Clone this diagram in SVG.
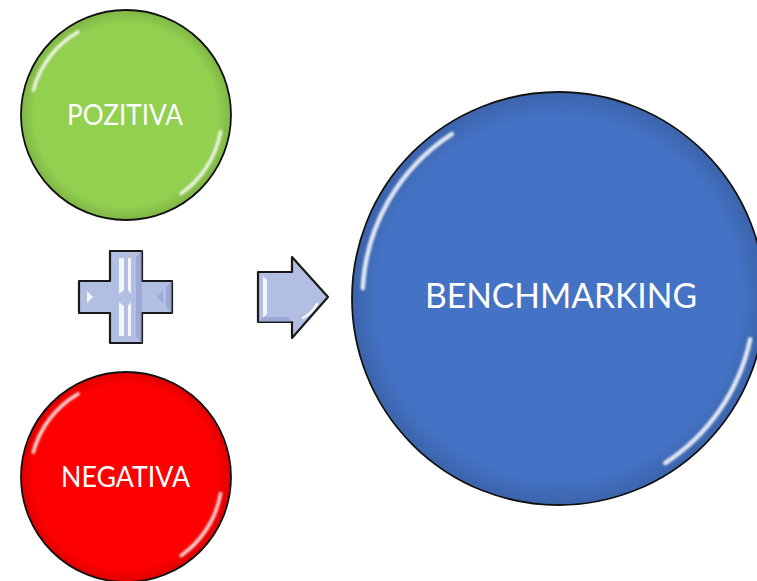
<svg xmlns="http://www.w3.org/2000/svg" width="757" height="581" viewBox="0 0 757 581">
<defs>
<style>
.ring{stroke:#111;stroke-width:1.8}
.hl{fill:none;stroke:#fff;stroke-width:3.5;stroke-linecap:round;opacity:0.85;filter:url(#blur)}
.lbl{fill:#fff;font-family:Lato,"Open Sans","Liberation Sans",sans-serif;text-anchor:middle}
.shape{fill:#b3bee3;stroke:#1a1a1a;stroke-width:2.2;stroke-linejoin:round}
.shine{fill:#fff;opacity:0.85}
.shade{fill:#8e9bc9;opacity:0.6}
</style>
<filter id="blur" x="-20%" y="-20%" width="140%" height="140%"><feGaussianBlur stdDeviation="1.3"/></filter>
<radialGradient id="edgeG" cx="0.5" cy="0.5" r="0.5">
<stop offset="0.88" stop-color="#000" stop-opacity="0"/>
<stop offset="1" stop-color="#000" stop-opacity="0.12"/>
</radialGradient>
</defs>
<rect width="757" height="581" fill="#fff"/>
<g id="pozitiva">
<circle class="ring" cx="126" cy="115" r="105" fill="#92d050"/>
<circle cx="126" cy="115" r="104" fill="url(#edgeG)"/>
<path class="hl" d="M33.3,90.2 A96,96 0 0 1 78,31.9"/>
<path class="hl" d="M220.5,131.7 A96,96 0 0 1 181.1,193.6"/>
<text class="lbl" x="125" y="125" font-size="28" textLength="116" lengthAdjust="spacingAndGlyphs">POZITIVA</text>
</g>
<g id="negativa">
<circle class="ring" cx="126" cy="477" r="105" fill="#ff0000"/>
<circle cx="126" cy="477" r="104" fill="url(#edgeG)"/>
<path class="hl" d="M33.3,452.2 A96,96 0 0 1 78,393.9"/>
<path class="hl" d="M220.5,493.7 A96,96 0 0 1 181.1,555.6"/>
<text class="lbl" x="125.5" y="487" font-size="28" textLength="129" lengthAdjust="spacingAndGlyphs">NEGATIVA</text>
</g>
<g id="benchmarking">
<circle class="ring" cx="558.5" cy="298.5" r="206.5" fill="#4472c4"/>
<circle cx="558.5" cy="298.5" r="205.5" fill="url(#edgeG)"/>
<path class="hl" d="M362.8,288.2 A196,196 0 0 1 451.7,134.1" style="stroke-width:4.5"/>
<path class="hl" d="M750.2,339.3 A196,196 0 0 1 665.3,463" style="stroke-width:4.5"/>
<text class="lbl" x="561" y="308" font-size="35" textLength="272" lengthAdjust="spacingAndGlyphs">BENCHMARKING</text>
</g>
<g id="plus">
<polygon class="shape" points="110,251 142,251 142,281 172,281 172,313 142,313 142,343 110,343 110,313 79,313 79,281 110,281"/>
<polygon class="shade" points="136,257 142,251 142,343 136,337"/>
<polygon class="shade" points="166,287 172,281 172,313 166,307"/>
<polygon class="shine" points="119,258 124,258 124,290 119,294"/>
<polygon class="shine" points="119,302 124,306 124,336 119,336"/>
<polygon class="shine" opacity="0.5" points="128,258 131,258 131,294 128,290"/>
<polygon class="shine" opacity="0.5" points="128,306 131,302 131,336 128,336"/>
<polygon class="shine" points="87,291 93,297 87,303"/>
<polygon class="shade" points="163,291 157,297 163,303"/>
</g>
<g id="arrow">
<polygon class="shape" points="258,272 292,272 292,257 328,297 292,338 292,322 258,322"/>
<polygon class="shine" points="263,276 267,280 267,314 263,318"/>
<polygon class="shade" points="258,322 292,322 288,317 263,317"/>
<path d="M303,318 Q312,313 317,304" fill="none" stroke="#fff" stroke-width="2.5" stroke-linecap="round" opacity="0.9"/>
</g>
<g id="connectors"/>
</svg>
